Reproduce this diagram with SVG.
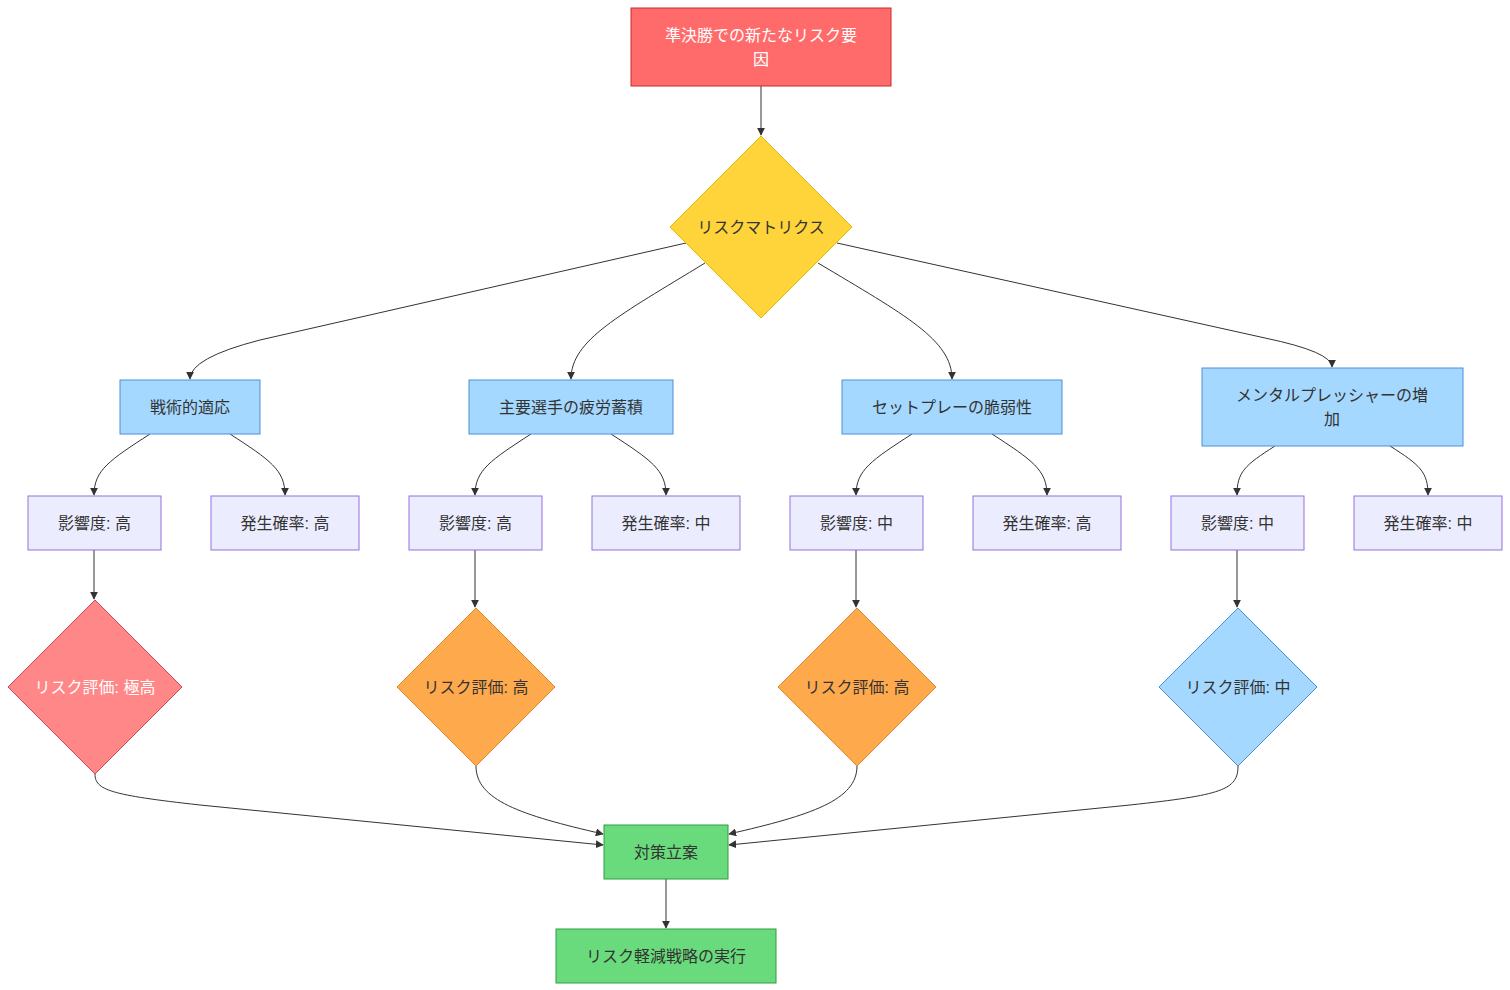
<svg xmlns="http://www.w3.org/2000/svg" width="1510" height="990" viewBox="0 0 1510 990">
<defs>
<marker id="arr" viewBox="0 0 10 10" refX="9" refY="5" markerWidth="8" markerHeight="8" orient="auto" markerUnits="userSpaceOnUse">
<path d="M0,0 L10,5 L0,10 z" fill="#333"/>
</marker>
</defs>
<style>
text{font-family:"Liberation Sans","Noto Sans CJK JP",sans-serif;font-size:16px;fill:#333;text-anchor:middle;dominant-baseline:central}
.w{fill:#fff}
.edge{fill:none;stroke:#333;stroke-width:1;marker-end:url(#arr)}
.red{fill:#ff6b6b;stroke:#c92a2a}
.yel{fill:#ffd43b;stroke:#e6b800}
.blue{fill:#a5d8ff;stroke:#4a8fd6}
.lav{fill:#ececff;stroke:#9370db}
.pink{fill:#ff8787;stroke:#c94a4a}
.ora{fill:#ffa94d;stroke:#d98a2b}
.lb{fill:#a5d8ff;stroke:#4a8fd6}
.grn{fill:#69db7c;stroke:#2f9e44}
</style>
<rect width="1510" height="990" fill="#fff"/>
<g id="edges">
<path class="edge" d="M761,86 L761,135"/>
<path class="edge" d="M686,243 L260,340 Q190,358 190,379"/>
<path class="edge" d="M705,263 C620,315 571,340 571,379"/>
<path class="edge" d="M818,263 C905,315 952,340 952,379"/>
<path class="edge" d="M837,243 L1265,338 Q1332,352 1332,367"/>
<path class="edge" d="M150,434 C110,460 94,470 94,495"/>
<path class="edge" d="M230,434 C270,460 285,470 285,495"/>
<path class="edge" d="M531,434 C491,460 475,470 475,495"/>
<path class="edge" d="M611,434 C651,460 666,470 666,495"/>
<path class="edge" d="M912,434 C872,460 856,470 856,495"/>
<path class="edge" d="M992,434 C1032,460 1047,470 1047,495"/>
<path class="edge" d="M1275,446 C1245,465 1237,472 1237,495"/>
<path class="edge" d="M1390,446 C1420,465 1428,472 1428,495"/>
<path class="edge" d="M94,550 L94,599"/>
<path class="edge" d="M475,550 L475,607"/>
<path class="edge" d="M856,550 L856,607"/>
<path class="edge" d="M1237,550 L1237,607"/>
<path class="edge" d="M95,774 C95,790 110,795 200,805 L603,845"/>
<path class="edge" d="M476,766 C476,800 520,815 603,834"/>
<path class="edge" d="M857,766 C857,800 812,815 729,834"/>
<path class="edge" d="M1238,766 C1238,790 1222,795 1130,805 L729,845"/>
<path class="edge" d="M666,879 L666,928"/>
</g>
<g id="n_top"><rect class="red" x="631" y="8" width="260" height="78"/><text class="w" x="761" y="35">準決勝での新たなリスク要</text><text class="w" x="761" y="59">因</text></g>
<g id="n_matrix"><polygon class="yel" points="761,136 852,227 761,318 670,227"/><text x="761" y="227">リスクマトリクス</text></g>
<g id="n_a"><rect class="blue" x="120" y="380" width="140" height="54"/><text x="190" y="407">戦術的適応</text></g>
<g id="n_b"><rect class="blue" x="469" y="380" width="204" height="54"/><text x="571" y="407">主要選手の疲労蓄積</text></g>
<g id="n_c"><rect class="blue" x="842" y="380" width="220" height="54"/><text x="952" y="407">セットプレーの脆弱性</text></g>
<g id="n_d"><rect class="blue" x="1202" y="368" width="261" height="78"/><text x="1332" y="395">メンタルプレッシャーの増</text><text x="1332" y="419">加</text></g>
<g id="n_a1"><rect class="lav" x="28" y="496" width="133" height="54"/><text x="94.5" y="523">影響度: 高</text></g>
<g id="n_a2"><rect class="lav" x="211" y="496" width="148" height="54"/><text x="285" y="523">発生確率: 高</text></g>
<g id="n_b1"><rect class="lav" x="409" y="496" width="133" height="54"/><text x="475.5" y="523">影響度: 高</text></g>
<g id="n_b2"><rect class="lav" x="592" y="496" width="148" height="54"/><text x="666" y="523">発生確率: 中</text></g>
<g id="n_c1"><rect class="lav" x="790" y="496" width="133" height="54"/><text x="856.5" y="523">影響度: 中</text></g>
<g id="n_c2"><rect class="lav" x="973" y="496" width="148" height="54"/><text x="1047" y="523">発生確率: 高</text></g>
<g id="n_d1"><rect class="lav" x="1171" y="496" width="133" height="54"/><text x="1237.5" y="523">影響度: 中</text></g>
<g id="n_d2"><rect class="lav" x="1354" y="496" width="148" height="54"/><text x="1428" y="523">発生確率: 中</text></g>
<g id="n_ra"><polygon class="pink" points="95,600 182,687 95,774 8,687"/><text class="w" x="95" y="687">リスク評価: 極高</text></g>
<g id="n_rb"><polygon class="ora" points="476,608 555,687 476,766 397,687"/><text x="476" y="687">リスク評価: 高</text></g>
<g id="n_rc"><polygon class="ora" points="857,608 936,687 857,766 778,687"/><text x="857" y="687">リスク評価: 高</text></g>
<g id="n_rd"><polygon class="lb" points="1238,608 1317,687 1238,766 1159,687"/><text x="1238" y="687">リスク評価: 中</text></g>
<g id="n_plan"><rect class="grn" x="604" y="825" width="124" height="54"/><text x="666" y="852">対策立案</text></g>
<g id="n_exec"><rect class="grn" x="556" y="929" width="220" height="54"/><text x="666" y="956">リスク軽減戦略の実行</text></g>
</svg>
